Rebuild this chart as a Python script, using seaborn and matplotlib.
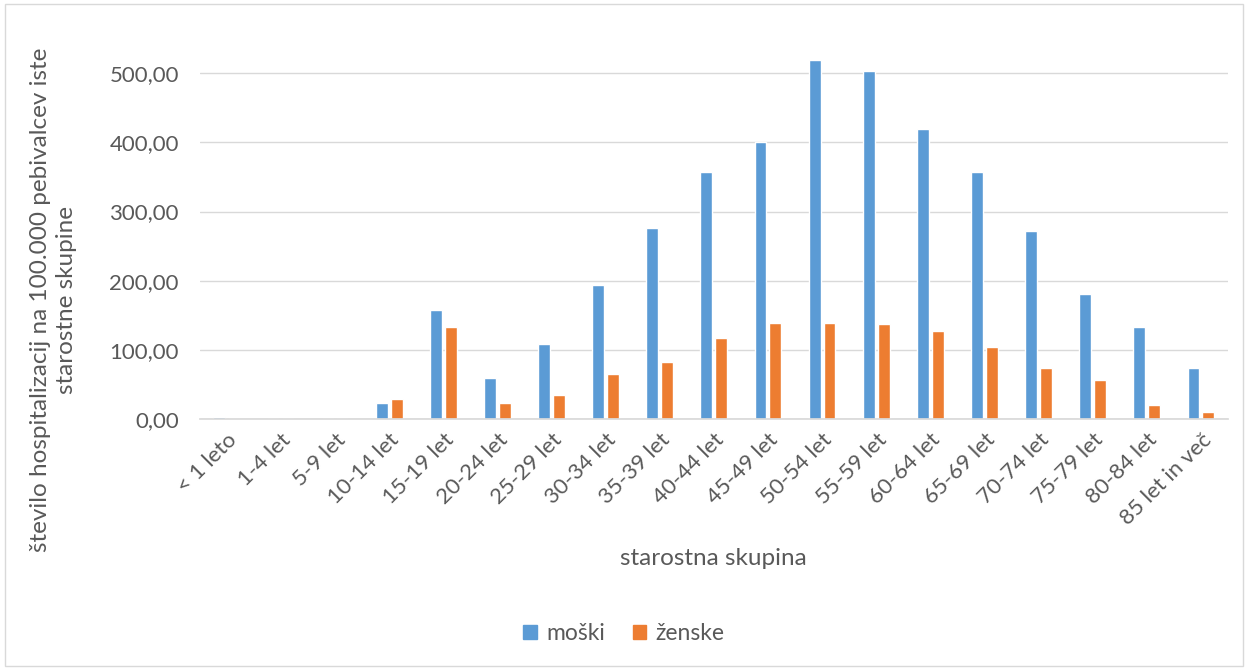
import pandas as pd
import matplotlib.pyplot as plt
import seaborn as sns
from matplotlib.ticker import FuncFormatter
from matplotlib.patches import Patch

# Podatki
skupine = ['< 1 leto', '1-4 let', '5-9 let', '10-14 let', '15-19 let', '20-24 let',
           '25-29 let', '30-34 let', '35-39 let', '40-44 let', '45-49 let', '50-54 let',
           '55-59 let', '60-64 let', '65-69 let', '70-74 let', '75-79 let', '80-84 let',
           '85 let in več']
moski = [2, 0, 0, 23, 157, 59, 108, 194, 276, 357, 400, 519, 504, 420, 357, 272, 181, 133, 74]
zenske = [0, 0, 0, 28, 133, 23, 35, 65, 82, 117, 139, 139, 137, 127, 104, 74, 56, 20, 10]

sns.set_theme(style="white")
plt.rcParams['font.family'] = ['Lato', 'DejaVu Sans']
siva = '#595959'

df = pd.DataFrame({
    'skupina': skupine * 2,
    'vrednost': moski + zenske,
    'spol': ['moški'] * len(skupine) + ['ženske'] * len(skupine),
})

fig = plt.figure(figsize=(12.48, 6.69), dpi=100)
ax = fig.add_axes([0.160, 0.374, 0.824, 0.566])

sns.barplot(data=df, x='skupina', y='vrednost', hue='spol', order=skupine,
            palette=['#5B9BD5', '#ED7D31'], width=0.55, gap=0.2, ax=ax,
            saturation=1, legend=False)

ax.set_ylim(0, 548)
ax.set_xlim(-0.5, len(skupine) - 0.5)
ax.set_yticks([0, 100, 200, 300, 400, 500])
ax.yaxis.set_major_formatter(FuncFormatter(lambda v, p: f'{v:.2f}'.replace('.', ',')))
ax.grid(axis='y', color='#D9D9D9', linewidth=1)
ax.set_axisbelow(True)
for s in ['top', 'right', 'left']:
    ax.spines[s].set_visible(False)
ax.spines['bottom'].set_color('#D9D9D9')
ax.tick_params(axis='y', labelsize=16, labelcolor=siva, length=0, pad=15)
ax.tick_params(axis='x', labelsize=16, labelcolor=siva, length=0, pad=8)
plt.setp(ax.get_xticklabels(), rotation=45, ha='right', rotation_mode='anchor')

ax.set_xlabel('starostna skupina', fontsize=17.5, color=siva, labelpad=14)
ax.set_ylabel('')
fig.text(0.043, 0.552, 'število hospitalizacij na 100.000 pebivalcev iste\nstarostne skupine',
         rotation=90, ha='center', va='center', multialignment='center',
         fontsize=17.5, color=siva, linespacing=1.3)

# Legenda
handles = [Patch(color='#5B9BD5', label='moški'), Patch(color='#ED7D31', label='ženske')]
fig.legend(handles=handles, loc='center', bbox_to_anchor=(0.5, 0.053), ncol=2,
           frameon=False, fontsize=16.5, labelcolor=siva, handlelength=0.6,
           handleheight=0.6, handletextpad=0.4, columnspacing=1.2)

# Okvir
fig.patches.append(plt.Rectangle((0.004, 0.004), 0.992, 0.99, transform=fig.transFigure,
                                 fill=False, edgecolor='#D9D9D9', linewidth=1))

fig.savefig('out.png', dpi=100)
